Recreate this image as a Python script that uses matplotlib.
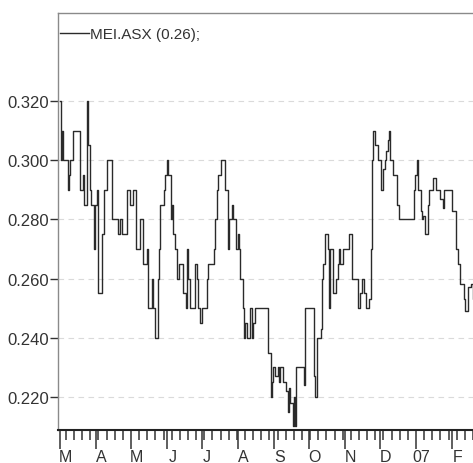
import matplotlib
matplotlib.use("Agg")
import matplotlib.pyplot as plt
import matplotlib.dates as mdates
import matplotlib.transforms as mtrans
import pandas as pd

# day offsets from 1 Mar 2006 and closing price
days = [0, 1, 2, 3, 6, 7, 8, 9, 11, 15, 17, 20, 21, 23, 24, 26, 27, 29, 30, 32,
        33, 36, 38, 40, 43, 45, 47, 50, 52, 53, 56, 58, 60, 62, 63, 65, 67, 69, 71, 75,
        76, 79, 80, 82, 84, 85, 86, 88, 89, 90, 92, 93, 95, 96, 97, 99, 101, 102, 105, 106,
        108, 109, 110, 112, 114, 116, 118, 119, 120, 122, 125, 126, 127, 131, 132, 133, 135, 136, 138, 140,
        142, 144, 145, 146, 148, 149, 151, 153, 154, 155, 157, 158, 159, 161, 163, 165, 166, 168, 178, 179,
        181, 182, 183, 185, 187, 188, 189, 192, 194, 196, 197, 198, 200, 201, 202, 203, 209, 210, 211, 217,
        218, 219, 221, 224, 225, 226, 228, 230, 231, 232, 234, 235, 237, 239, 240, 241, 243, 245, 248, 249,
        251, 254, 256, 258, 260, 261, 263, 265, 266, 267, 268, 269, 271, 273, 275, 276, 278, 279, 280, 282,
        283, 284, 286, 289, 290, 291, 303, 304, 305, 307, 308, 310, 311, 312, 314, 316, 317, 320, 321, 323,
        326, 327, 329, 330, 334, 337, 340, 342, 344, 347, 348, 351, 353, 355, 357]
price = [0.320, 0.300, 0.310, 0.300, 0.300, 0.290, 0.295, 0.300, 0.310, 0.310, 0.290, 0.295, 0.285, 0.320, 0.305, 0.290, 0.285, 0.270, 0.285, 0.290,
         0.255, 0.275, 0.290, 0.300, 0.300, 0.280, 0.280, 0.275, 0.280, 0.275, 0.275, 0.290, 0.285, 0.285, 0.290, 0.270, 0.270, 0.280, 0.265, 0.270,
         0.250, 0.260, 0.250, 0.240, 0.260, 0.270, 0.285, 0.285, 0.290, 0.295, 0.300, 0.295, 0.280, 0.285, 0.275, 0.270, 0.260, 0.265, 0.265, 0.255,
         0.250, 0.270, 0.260, 0.250, 0.250, 0.265, 0.260, 0.250, 0.245, 0.250, 0.250, 0.260, 0.265, 0.265, 0.270, 0.280, 0.290, 0.295, 0.300, 0.300,
         0.290, 0.270, 0.280, 0.280, 0.285, 0.280, 0.270, 0.275, 0.270, 0.260, 0.250, 0.240, 0.245, 0.240, 0.250, 0.240, 0.245, 0.250, 0.250, 0.235,
         0.220, 0.225, 0.230, 0.227, 0.230, 0.225, 0.230, 0.225, 0.222, 0.215, 0.223, 0.218, 0.210, 0.220, 0.210, 0.230, 0.230, 0.224, 0.250, 0.250,
         0.227, 0.220, 0.240, 0.243, 0.260, 0.265, 0.275, 0.270, 0.250, 0.270, 0.270, 0.255, 0.260, 0.265, 0.270, 0.265, 0.270, 0.270, 0.275, 0.275,
         0.260, 0.260, 0.250, 0.255, 0.260, 0.255, 0.250, 0.250, 0.253, 0.270, 0.300, 0.310, 0.305, 0.300, 0.300, 0.290, 0.297, 0.300, 0.303, 0.307,
         0.310, 0.300, 0.295, 0.295, 0.285, 0.280, 0.280, 0.290, 0.295, 0.300, 0.290, 0.283, 0.280, 0.281, 0.275, 0.285, 0.290, 0.290, 0.294, 0.290,
         0.290, 0.287, 0.284, 0.290, 0.290, 0.283, 0.270, 0.265, 0.258, 0.253, 0.249, 0.257, 0.258, 0.253, 0.245]

month_labels = ['M', 'A', 'M', 'J', 'J', 'A', 'S', 'O', 'N', 'D', '07', 'F']
yticks = [0.220, 0.240, 0.260, 0.280, 0.300, 0.320]
series_name = 'MEI.ASX (0.26);'

plt.rcParams['font.family'] = ['Liberation Sans', 'DejaVu Sans']

start = pd.Timestamp('2006-03-01')
dates = start + pd.to_timedelta(days, unit='D')

fig = plt.figure(figsize=(4.73, 4.64), dpi=100)
ax = fig.add_axes([58/473, 33/464, 415/473, 417/464])

ax.plot(dates, price, color='#2a2a2a', lw=1.0, drawstyle='steps-post',
        label=series_name)

ax.set_xlim(start - pd.Timedelta(days=1.7), start + pd.Timedelta(days=355))
ax.set_ylim(0.2088, 0.3498)

# y axis
ax.set_yticks(yticks)
ax.set_yticklabels(['%.3f' % v for v in yticks])
ax.tick_params(axis='y', direction='out', length=6, width=1, pad=0.5,
               labelsize=12, colors='#333333')
ax.grid(axis='y', color='#dadada', lw=0.8, ls=(0, (5, 4)))

# x axis: months and weeks
ax.xaxis.set_major_locator(mdates.MonthLocator())
ax.xaxis.set_minor_locator(mdates.WeekdayLocator(byweekday=mdates.MO))
ax.xaxis.set_major_formatter(plt.NullFormatter())
ax.tick_params(axis='x', which='major', direction='out', length=14, width=1.1,
               color='#333333')
ax.tick_params(axis='x', which='minor', direction='out', length=7, width=1.1,
               color='#333333')
trans = mtrans.blended_transform_factory(ax.transData, ax.transAxes)
months = pd.date_range(start, periods=len(month_labels), freq='MS')
for m, lab in zip(months, month_labels):
    ax.text(m + pd.Timedelta(days=4.5), -0.046, lab, transform=trans,
            ha='center', va='top', fontsize=11.5, color='#333333')

for s in ['top', 'left']:
    ax.spines[s].set_color('#8a8a8a')
    ax.spines[s].set_linewidth(1.0)
ax.spines['right'].set_visible(False)
ax.spines['bottom'].set_color('#222222')
ax.spines['bottom'].set_linewidth(1.5)

leg = ax.legend(loc='upper left', bbox_to_anchor=(0.0, 0.969), frameon=False,
                fontsize=11, handlelength=1.9, handletextpad=0.1,
                borderaxespad=0.0, borderpad=0.1)
for t in leg.get_texts():
    t.set_color('#333333')

fig.savefig('out.png', dpi=100)
